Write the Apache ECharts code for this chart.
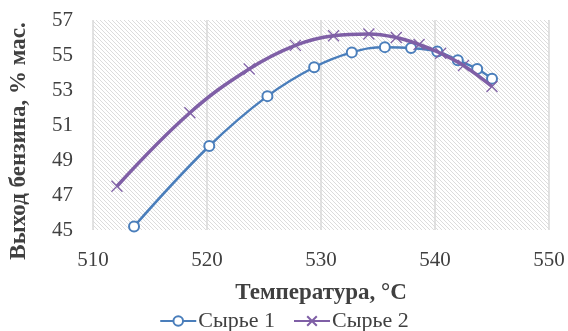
<!DOCTYPE html>
<html>
<head>
<meta charset="utf-8">
<script src="https://cdn.jsdelivr.net/npm/echarts@6/dist/echarts.min.js"></script>
<style>
  html, body { margin: 0; padding: 0; background: #fff; }
  #chart { width: 568px; height: 331px; }
</style>
</head>
<body>
<div id="chart"></div>
<script>
// temperature, °C / gasoline yield, % mass
const feed1Temp = [513.6, 520.2, 525.3, 529.4, 532.7, 535.6, 537.9, 540.2, 542.0, 543.7, 545.0]
const feed1Yield = [45.2, 49.8, 52.65, 54.3, 55.15, 55.45, 55.4, 55.2, 54.7, 54.2, 53.65]
const feed2Temp = [512.1, 518.5, 523.7, 527.75, 531.1, 534.2, 536.6, 538.6, 540.5, 542.5, 545.0]
const feed2Yield = [47.5, 51.7, 54.2, 55.55, 56.1, 56.2, 56.0, 55.6, 55.1, 54.4, 53.2]
const seriesNames = ['Сырье 1', 'Сырье 2']

const serif = "'Liberation Serif', 'DejaVu Serif', serif"

// hatched plot background
function makeHatch() {
  const c = document.createElement('canvas')
  c.width = 8
  c.height = 8
  const ctx = c.getContext('2d')
  ctx.fillStyle = '#ffffff'
  ctx.fillRect(0, 0, 8, 8)
  ctx.strokeStyle = '#dcdcdc'
  ctx.lineWidth = 1
  for (let x = -8; x <= 8; x += 4) {
    ctx.beginPath()
    ctx.moveTo(x, 0)
    ctx.lineTo(x + 8, 8)
    ctx.stroke()
  }
  return c
}

const toPairs = (xs, ys) => xs.map((x, i) => [x, ys[i]])

const chart = echarts.init(document.getElementById('chart'))
chart.setOption({
  animation: false,
  grid: {
    left: 93,
    right: 19,
    top: 20,
    bottom: 101,
    show: true,
    borderWidth: 0,
    backgroundColor: { image: makeHatch(), repeat: 'repeat' },
  },
  legend: {
    bottom: -6,
    itemWidth: 36,
    itemHeight: 12,
    itemGap: 18,
    textStyle: { fontFamily: serif, fontSize: 22, color: '#404040', padding: [0, 0, 0, -3] },
    data: seriesNames,
  },
  xAxis: {
    type: 'value',
    min: 510,
    max: 550,
    interval: 10,
    name: 'Температура, °С',
    nameLocation: 'middle',
    nameGap: 52,
    nameTextStyle: { fontFamily: serif, fontSize: 23, fontWeight: 'bold', color: '#404040' },
    axisLine: { show: false },
    axisTick: { show: false },
    axisLabel: { fontFamily: serif, fontSize: 21, color: '#404040', margin: 20 },
    splitLine: { show: true, lineStyle: { color: '#d9d9d9', width: 1.5 } },
  },
  yAxis: {
    type: 'value',
    min: 45,
    max: 57,
    interval: 2,
    name: 'Выход бензина, % мас.',
    nameLocation: 'middle',
    nameGap: 62,
    nameTextStyle: { fontFamily: serif, fontSize: 23, fontWeight: 'bold', color: '#404040', padding: [0, 32, 0, 0] },
    axisLine: { show: false },
    axisTick: { show: false },
    axisLabel: { fontFamily: serif, fontSize: 21, color: '#404040', margin: 20 },
    splitLine: { show: false },
  },
  series: [
    {
      name: seriesNames[0],
      type: 'line',
      smooth: 0.4,
      data: toPairs(feed1Temp, feed1Yield),
      symbol: 'circle',
      symbolSize: 10,
      lineStyle: { color: '#4a7ebb', width: 2.5 },
      itemStyle: { color: '#ffffff', borderColor: '#4a7ebb', borderWidth: 2 },
      z: 2,
    },
    {
      name: seriesNames[1],
      type: 'line',
      smooth: 0.4,
      data: toPairs(feed2Temp, feed2Yield),
      symbol: 'path://M0,0L10,10M10,0L0,10',
      symbolSize: 11,
      lineStyle: { color: '#7f5fa6', width: 3.5 },
      itemStyle: { color: '#7f5fa6', borderColor: '#7f5fa6', borderWidth: 1.2 },
      z: 3,
    },
  ],
})
</script>
</body>
</html>
